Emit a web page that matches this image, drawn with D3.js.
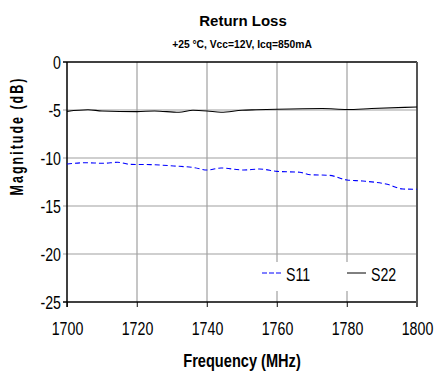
<!DOCTYPE html>
<html>
<head>
<meta charset="utf-8">
<script src="https://cdn.jsdelivr.net/npm/d3@7"></script>
<style>
  body { margin: 0; background: #fff; }
  svg { display: block; font-family: "Liberation Sans", Arial, sans-serif; }
</style>
</head>
<body>
<svg id="chart" width="434" height="373"></svg>
<script>
// tick labels
var xTicks = [1700, 1720, 1740, 1760, 1780, 1800];
var yTicks = [0, -5, -10, -15, -20, -25];

// S11 (input return loss), dB
var s11Freq = [1700, 1705, 1710.5, 1714.5, 1718, 1724, 1730.5, 1736.5, 1740, 1744, 1750.5,
               1755, 1760, 1766.5, 1769.5, 1775, 1780, 1784.5, 1791.5, 1796, 1800];
var s11Val  = [-10.63, -10.49, -10.55, -10.45, -10.66, -10.69, -10.83, -11.01, -11.25, -11.04, -11.25,
               -11.15, -11.39, -11.49, -11.74, -11.81, -12.29, -12.40, -12.74, -13.23, -13.26];

// S22 (output return loss), dB
var s22Freq = [1700, 1706, 1710, 1720, 1725, 1732, 1736, 1740, 1744, 1750, 1754,
               1760, 1773, 1780, 1787, 1800];
var s22Val  = [-5.14, -4.98, -5.10, -5.17, -5.10, -5.24, -5.03, -5.10, -5.24, -5.03, -4.98,
               -4.92, -4.85, -4.95, -4.85, -4.68];

var margin = { top: 62, right: 17, bottom: 71, left: 67 };
var svg = d3.select('#chart');
var W = +svg.attr('width'), H = +svg.attr('height');
var w = W - margin.left - margin.right;
var h = H - margin.top - margin.bottom;

var x = d3.scaleLinear().domain([1700, 1800]).range([0, w]);
var y = d3.scaleLinear().domain([-25, 0]).range([h, 0]);

var g = svg.append('g').attr('transform', 'translate(' + margin.left + ',' + margin.top + ')');

var gridColor = '#a0a0a0';
var sy = 1.35;  // the labels in the picture are stretched vertically
var plain = function (d) { return String(d); };  // keep ascii hyphen for negatives

// grid (extends 4-5px outside the plot as tick marks)
g.append('g').selectAll('line')
  .data(xTicks.slice(1, -1))
  .enter().append('line')
  .attr('x1', function (d) { return x(d); })
  .attr('x2', function (d) { return x(d); })
  .attr('y1', 0).attr('y2', h + 5)
  .attr('stroke', gridColor).attr('stroke-width', 1.2);

g.append('g').selectAll('line')
  .data(yTicks.slice(1, -1))
  .enter().append('line')
  .attr('y1', function (d) { return y(d); })
  .attr('y2', function (d) { return y(d); })
  .attr('x1', -4).attr('x2', w)
  .attr('stroke', gridColor).attr('stroke-width', 1.2);

// axes
var xAxis = g.append('g')
  .attr('transform', 'translate(0,' + h + ')')
  .call(d3.axisBottom(x).tickValues(xTicks).tickSize(5).tickFormat(plain));
xAxis.select('.domain').remove();
xAxis.selectAll('line').attr('stroke', '#444');
xAxis.selectAll('text')
  .attr('y', 33 / sy).attr('dy', 0)
  .attr('transform', 'scale(1,' + sy + ')')
  .style('font-size', '14.2px').style('font-family', '"Liberation Sans", Arial, sans-serif')
  .attr('fill', '#000');

var yAxis = g.append('g')
  .call(d3.axisLeft(y).tickValues(yTicks).tickSize(0).tickPadding(6).tickFormat(plain));
yAxis.select('.domain').remove();
yAxis.selectAll('text')
  .attr('y', 6.8 / sy).attr('dy', 0)
  .attr('transform', 'scale(1,' + sy + ')')
  .style('font-size', '14.2px').style('font-family', '"Liberation Sans", Arial, sans-serif')
  .attr('fill', '#000');

// frame
g.append('line').attr('x1', -4).attr('x2', w).attr('y1', 0).attr('y2', 0)
  .attr('stroke', '#000').attr('stroke-width', 1.3);
g.append('line').attr('x1', -4).attr('x2', w).attr('y1', h).attr('y2', h)
  .attr('stroke', '#000').attr('stroke-width', 1.5);
g.append('line').attr('x1', 0).attr('x2', 0).attr('y1', 0).attr('y2', h + 5)
  .attr('stroke', '#000').attr('stroke-width', 1.5);
g.append('line').attr('x1', w).attr('x2', w).attr('y1', 0).attr('y2', h + 5)
  .attr('stroke', '#555').attr('stroke-width', 2);

// data lines
var line = d3.line()
  .x(function (d) { return x(d[0]); })
  .y(function (d) { return y(d[1]); })
  .curve(d3.curveMonotoneX);

g.append('path')
  .datum(d3.zip(s22Freq, s22Val))
  .attr('d', line)
  .attr('fill', 'none').attr('stroke', '#000').attr('stroke-width', 1.1);

g.append('path')
  .datum(d3.zip(s11Freq, s11Val))
  .attr('d', line)
  .attr('fill', 'none').attr('stroke', '#0000ff').attr('stroke-width', 1.1)
  .attr('stroke-dasharray', '5,3');

// legend
var lg = svg.append('g');
lg.append('rect').attr('x', 256).attr('y', 262).attr('width', 160).attr('height', 29).attr('fill', '#fff');
var legendItems = [
  { name: 'S11', color: '#0000ff', dash: '5,2', x: 262 },
  { name: 'S22', color: '#000', dash: null, x: 347 }
];
legendItems.forEach(function (it) {
  lg.append('line')
    .attr('x1', it.x).attr('x2', it.x + 19)
    .attr('y1', 273).attr('y2', 273)
    .attr('stroke', it.color).attr('stroke-width', 1)
    .attr('stroke-dasharray', it.dash);
  lg.append('text')
    .attr('transform', 'translate(' + (it.x + 24) + ',281) scale(1,' + sy + ')')
    .style('font-size', '14.2px')
    .text(it.name);
});

// titles
svg.append('text')
  .attr('x', 243).attr('y', 26)
  .attr('text-anchor', 'middle')
  .style('font-size', '15px').style('font-weight', 'bold')
  .text('Return Loss');
svg.append('text')
  .attr('x', 242).attr('y', 47.5)
  .attr('text-anchor', 'middle')
  .style('font-size', '10.3px').style('font-weight', 'bold')
  .text('+25 °C, Vcc=12V, Icq=850mA');

svg.append('text')
  .attr('transform', 'translate(242,367) scale(1,1.27)')
  .attr('text-anchor', 'middle')
  .style('font-size', '14.6px').style('font-weight', 'bold')
  .text('Frequency (MHz)');

svg.append('text')
  .attr('transform', 'translate(23,136) rotate(-90) scale(1,1.4)')
  .attr('text-anchor', 'middle')
  .style('font-size', '12.5px').style('font-weight', 'bold')
  .style('letter-spacing', '2px')
  .text('Magnitude (dB)');
</script>
</body>
</html>
